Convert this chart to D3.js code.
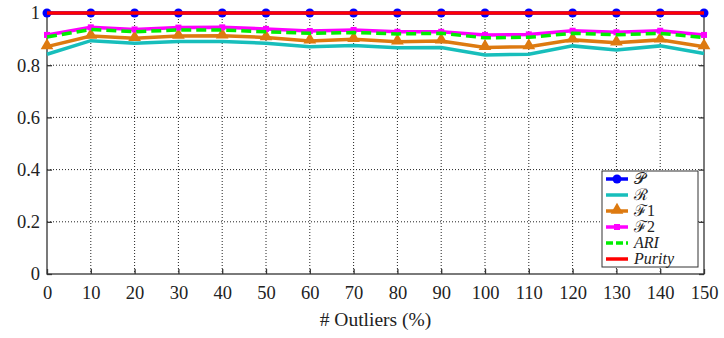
<!DOCTYPE html>
<html>
<head>
<meta charset="utf-8">
<title>Outliers</title>
<script src="https://cdn.jsdelivr.net/npm/d3@7"></script>
<style>
  body { margin: 0; background: #fff; }
  text { font-family: "Liberation Serif", "Times New Roman", serif; fill: #222; }
</style>
</head>
<body>
<div id="chart"></div>
<script>
  // data
  var outliers = [0, 10, 20, 30, 40, 50, 60, 70, 80, 90, 100, 110, 120, 130, 140, 150];
  var pVals      = [1, 1, 1, 1, 1, 1, 1, 1, 1, 1, 1, 1, 1, 1, 1, 1];
  var rVals      = [0.842, 0.894, 0.884, 0.891, 0.891, 0.884, 0.871, 0.875, 0.867, 0.868, 0.839, 0.842, 0.874, 0.858, 0.874, 0.845];
  var f1Vals     = [0.871, 0.912, 0.903, 0.912, 0.913, 0.906, 0.893, 0.899, 0.890, 0.893, 0.868, 0.871, 0.897, 0.886, 0.897, 0.871];
  var f2Vals     = [0.916, 0.945, 0.937, 0.944, 0.945, 0.939, 0.931, 0.935, 0.928, 0.928, 0.916, 0.918, 0.932, 0.926, 0.932, 0.916];
  var ariVals    = [0.908, 0.937, 0.928, 0.935, 0.935, 0.928, 0.922, 0.925, 0.920, 0.922, 0.905, 0.907, 0.922, 0.917, 0.922, 0.906];
  var purityVals = [1, 1, 1, 1, 1, 1, 1, 1, 1, 1, 1, 1, 1, 1, 1, 1];
  var yTicks = [0, 0.2, 0.4, 0.6, 0.8, 1];

  var series = [
    {name: "\uD835\uDCAB", italic: false, vals: pVals, color: "#0000ff", marker: "circle"},
    {name: "\u211B", italic: false, vals: rVals, color: "#17bebb", marker: null},
    {name: "\u2131" + "1", italic: false, vals: f1Vals, color: "#dd7a10", marker: "triangle"},
    {name: "\u2131" + "2", italic: false, vals: f2Vals, color: "#ff00ff", marker: "square"},
    {name: "ARI", italic: true, vals: ariVals, color: "#00ee00", marker: null, dash: "10,5"},
    {name: "Purity", italic: true, vals: purityVals, color: "#ff0000", marker: null}
  ];

  var W = 724, H = 338;
  var mL = 47, mR = 704, mT = 13, mB = 274;
  var serif = "'Liberation Serif', 'Times New Roman', serif";

  var svg = d3.select("#chart").append("svg").attr("width", W).attr("height", H);

  var x = d3.scaleLinear().domain([0, 150]).range([mL, mR]);
  var y = d3.scaleLinear().domain([0, 1]).range([mB, mT]);

  // grid
  var grid = svg.append("g");
  grid.selectAll("line.vx").data(outliers.slice(1, -1)).enter().append("line")
    .attr("x1", function (d) { return x(d); }).attr("x2", function (d) { return x(d); })
    .attr("y1", mT).attr("y2", mB)
    .attr("stroke", "#222").attr("stroke-width", 1).attr("stroke-dasharray", "1,2");
  grid.selectAll("line.hy").data(yTicks.slice(1, -1)).enter().append("line")
    .attr("y1", function (d) { return y(d); }).attr("y2", function (d) { return y(d); })
    .attr("x1", mL).attr("x2", mR)
    .attr("stroke", "#222").attr("stroke-width", 1).attr("stroke-dasharray", "1,2");

  // axes box
  svg.append("rect").attr("x", mL).attr("y", mT).attr("width", mR - mL).attr("height", mB - mT)
    .attr("fill", "none").attr("stroke", "#333").attr("stroke-width", 1.3);

  var xAxis = svg.append("g").attr("transform", "translate(0," + mB + ")")
    .call(d3.axisBottom(x).tickValues(outliers).tickSize(-5).tickPadding(12).tickFormat(d3.format("d")));
  var yAxis = svg.append("g").attr("transform", "translate(" + mL + ",0)")
    .call(d3.axisLeft(y).tickValues(yTicks).tickSize(-5).tickPadding(7).tickFormat(function (d) { return d === 0 || d === 1 ? d : d3.format(".1f")(d); }));
  var yAxisR = svg.append("g").attr("transform", "translate(" + mR + ",0)")
    .call(d3.axisRight(y).tickValues(yTicks).tickSize(-5).tickFormat(""));
  [xAxis, yAxis, yAxisR].forEach(function (a) {
    a.attr("font-family", serif);
    a.select(".domain").remove();
    a.selectAll("line").attr("stroke", "#333").attr("stroke-width", 1.3);
    a.selectAll("text").style("font-family", serif).style("font-size", "18.5px").attr("fill", "#222");
  });

  svg.append("text").attr("x", x(75)).attr("y", 326).attr("text-anchor", "middle")
    .style("font-family", serif).style("font-size", "19.5px").text("# Outliers (%)");

  // series
  var line = d3.line().x(function (d, i) { return x(outliers[i]); }).y(function (d) { return y(d); });
  var tri = d3.symbol().type(d3.symbolTriangle).size(70);

  function drawMarker(g, s, px, py) {
    if (s.marker === "circle") {
      g.append("circle").attr("cx", px).attr("cy", py).attr("r", 4.5).attr("fill", s.color);
    } else if (s.marker === "triangle") {
      g.append("path").attr("d", tri()).attr("transform", "translate(" + px + "," + (py - 1) + ")").attr("fill", s.color);
    } else if (s.marker === "square") {
      g.append("rect").attr("x", px - 3).attr("y", py - 3).attr("width", 6).attr("height", 6).attr("fill", s.color);
    }
  }

  series.forEach(function (s) {
    var g = svg.append("g");
    g.append("path").datum(s.vals).attr("d", line)
      .attr("fill", "none").attr("stroke", s.color).attr("stroke-width", 3.5)
      .attr("stroke-dasharray", s.dash || null);
    s.vals.forEach(function (v, i) { drawMarker(g, s, x(outliers[i]), y(v)); });
  });

  // legend
  var lg = svg.append("g").attr("transform", "translate(602,171)");
  lg.append("rect").attr("width", 96).attr("height", 96).attr("fill", "#fff").attr("stroke", "#333").attr("stroke-width", 1);
  series.forEach(function (s, i) {
    var cy = 8 + i * 16;
    var row = lg.append("g");
    row.append("line").attr("x1", 4).attr("x2", 26).attr("y1", cy).attr("y2", cy)
      .attr("stroke", s.color).attr("stroke-width", 3.5).attr("stroke-dasharray", s.dash ? "7,3" : null);
    drawMarker(row, s, 15, cy);
    row.append("text").attr("x", 32).attr("y", cy + 5)
      .style("font-family", serif).style("font-size", "16px").style("font-style", s.italic ? "italic" : "normal")
      .text(s.name);
  });
</script>
</body>
</html>
